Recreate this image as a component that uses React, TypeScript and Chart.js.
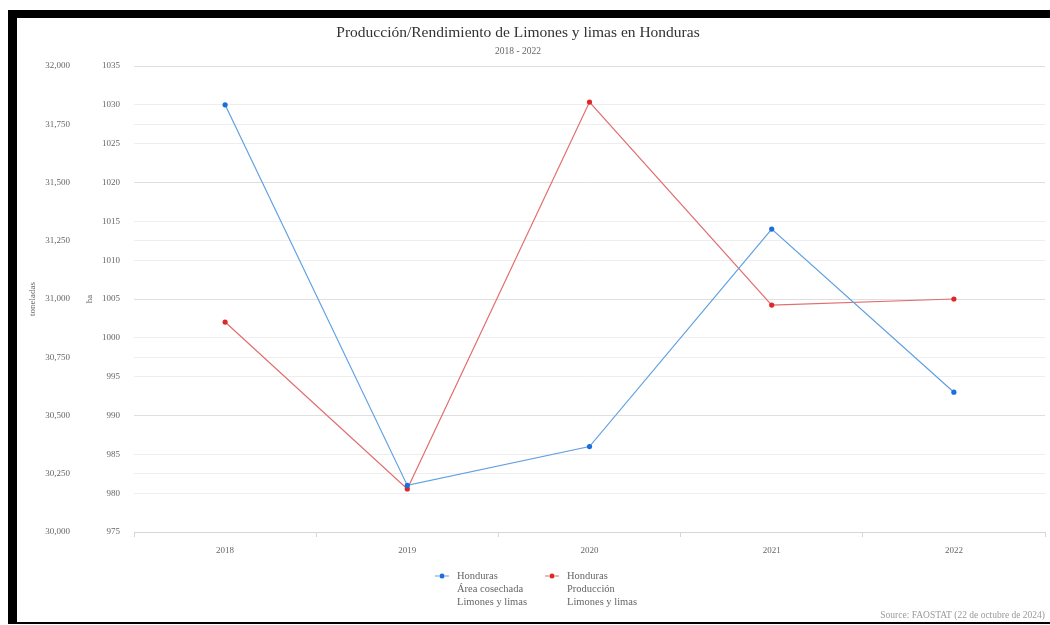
import React, { useEffect, useRef } from 'react';
import { Chart, registerables } from 'chart.js';

Chart.register(...registerables);

// Years on the category axis
const years = ['2018', '2019', '2020', '2021', '2022'];

// Área cosechada (ha)
const areaHa = [1030, 981, 986, 1014, 993];

// Producción (toneladas)
const produccionTon = [30901, 30185, 31845, 30974, 31000];

// Legend texts, one line per entry
const areaLegend = ['Honduras', 'Área cosechada', 'Limones y limas'];
const produccionLegend = ['Honduras', 'Producción', 'Limones y limas'];

// Axis ranges and steps
const haRange = [975, 1035];
const haStep = 5;
const tonRange = [30000, 32000];
const tonStep = 250;

const titleText = 'Producción/Rendimiento de Limones y limas en Honduras';
const subtitleText = '2018 - 2022';
const sourceText = 'Source: FAOSTAT (22 de octubre de 2024)';
const haTitle = 'ha';
const tonTitle = 'toneladas';

const FONT = "'Liberation Serif', 'Times New Roman', serif";

const BLUE_LINE = 'rgb(96, 160, 226)';
const BLUE_DOT = 'rgb(28, 110, 220)';
const RED_LINE = 'rgb(226, 110, 110)';
const RED_DOT = 'rgb(222, 40, 40)';

// Draws the header, the multi-line legend and the source note
const decorations = {
  id: 'decorations',
  afterDraw(chart: any) {
    const ctx: CanvasRenderingContext2D = chart.ctx;
    const titleCenterX = 501;
    const legendCenterX = 519;
    ctx.save();
    ctx.textBaseline = 'middle';
    ctx.textAlign = 'center';

    ctx.fillStyle = '#333333';
    ctx.font = `15.5px ${FONT}`;
    ctx.fillText(titleText, titleCenterX, 15);

    ctx.fillStyle = '#666666';
    ctx.font = `9.5px ${FONT}`;
    ctx.fillText(subtitleText, titleCenterX, 33);

    // Legend
    ctx.font = `10.5px ${FONT}`;
    const symbolW = 14;
    const symbolGap = 8;
    const itemGap = 18;
    const lineH = 13;
    const legendY = 558;
    const items = chart.data.datasets.map((ds: any) => {
      const lines: string[] = ds.legendLines;
      const textW = Math.max(...lines.map((l) => ctx.measureText(l).width));
      return { ds, lines, w: symbolW + symbolGap + textW };
    });
    const total = items.reduce((a: number, it: any) => a + it.w, 0) + itemGap * (items.length - 1);
    let x = legendCenterX - total / 2;
    items.forEach((it: any) => {
      const cy = legendY;
      ctx.strokeStyle = it.ds.borderColor;
      ctx.lineWidth = 1.2;
      ctx.beginPath();
      ctx.moveTo(x, cy);
      ctx.lineTo(x + 4, cy);
      ctx.moveTo(x + 10, cy);
      ctx.lineTo(x + symbolW, cy);
      ctx.stroke();
      ctx.fillStyle = it.ds.pointBackgroundColor;
      ctx.beginPath();
      ctx.arc(x + symbolW / 2, cy, 2.5, 0, Math.PI * 2);
      ctx.fill();
      ctx.fillStyle = '#666666';
      ctx.textAlign = 'left';
      it.lines.forEach((line: string, i: number) => {
        ctx.fillText(line, x + symbolW + symbolGap, cy + i * lineH);
      });
      x += it.w + itemGap;
    });

    // Source note
    ctx.textAlign = 'right';
    ctx.fillStyle = '#999999';
    ctx.font = `9.5px ${FONT}`;
    ctx.fillText(sourceText, chart.chartArea.right, 597);
    ctx.restore();
  },
};

export default function App() {
  const canvasRef = useRef<HTMLCanvasElement | null>(null);

  useEffect(() => {
    if (!canvasRef.current) return;
    const tickFont = { family: FONT, size: 9 };
    const chart = new Chart(canvasRef.current, {
      type: 'line',
      data: {
        labels: years,
        datasets: [
          {
            label: areaLegend.join(' '),
            legendLines: areaLegend,
            data: areaHa,
            yAxisID: 'ha',
            borderColor: BLUE_LINE,
            borderWidth: 1.2,
            pointBackgroundColor: BLUE_DOT,
            pointBorderWidth: 0,
            pointRadius: 2.6,
            tension: 0,
            order: 1,
          } as any,
          {
            label: produccionLegend.join(' '),
            legendLines: produccionLegend,
            data: produccionTon,
            yAxisID: 'ton',
            borderColor: RED_LINE,
            borderWidth: 1.2,
            pointBackgroundColor: RED_DOT,
            pointBorderWidth: 0,
            pointRadius: 2.6,
            tension: 0,
            order: 2,
          } as any,
        ],
      },
      options: {
        responsive: false,
        animation: false,
        devicePixelRatio: 1,
        layout: { padding: { left: 10, right: 5, top: 48, bottom: 60 } },
        plugins: {
          legend: { display: false },
          title: { display: false },
          tooltip: { enabled: false },
        },
        scales: {
          x: {
            type: 'category',
            offset: true,
            grid: {
              offset: true,
              drawOnChartArea: false,
              drawTicks: true,
              tickLength: 5,
              color: '#d6d6d6',
            },
            border: { display: true, color: '#d6d6d6' },
            ticks: { color: '#666666', font: tickFont, padding: 8 },
            afterFit: (scale: any) => {
              scale.height = 30;
            },
          },
          ha: {
            type: 'linear',
            position: 'left',
            weight: 0,
            min: haRange[0],
            max: haRange[1],
            ticks: {
              stepSize: haStep,
              color: '#666666',
              font: tickFont,
              padding: 14,
              callback: (v: any) => String(v),
            },
            grid: { color: 'rgba(0,0,0,0.065)', drawTicks: false },
            border: { display: false },
            title: {
              display: true,
              text: haTitle,
              color: '#666666',
              font: { family: FONT, size: 9 },
              padding: { top: 0, bottom: 0 },
            },
            afterFit: (scale: any) => {
              scale.width = 50;
            },
          },
          ton: {
            type: 'linear',
            position: 'left',
            weight: 1,
            min: tonRange[0],
            max: tonRange[1],
            ticks: {
              stepSize: tonStep,
              color: '#666666',
              font: tickFont,
              padding: 14,
              callback: (v: any) => Number(v).toLocaleString('en-US'),
            },
            grid: { color: 'rgba(0,0,0,0.065)', drawTicks: false },
            border: { display: false },
            title: {
              display: true,
              text: tonTitle,
              color: '#666666',
              font: { family: FONT, size: 9 },
              padding: { top: 0, bottom: 0 },
            },
            afterFit: (scale: any) => {
              scale.width = 57;
            },
          },
        },
      } as any,
      plugins: [decorations],
    });
    return () => chart.destroy();
  }, []);

  return (
    <div
      style={{
        position: 'absolute',
        left: 8,
        top: 10,
        width: 1042,
        height: 614,
        background: '#000000',
        overflow: 'hidden',
      }}
    >
      <div
        style={{
          position: 'absolute',
          left: 9,
          top: 8,
          width: 1033,
          height: 604,
          background: '#ffffff',
        }}
      >
        <canvas ref={canvasRef} width={1033} height={604} style={{ display: 'block' }} />
      </div>
    </div>
  );
}
